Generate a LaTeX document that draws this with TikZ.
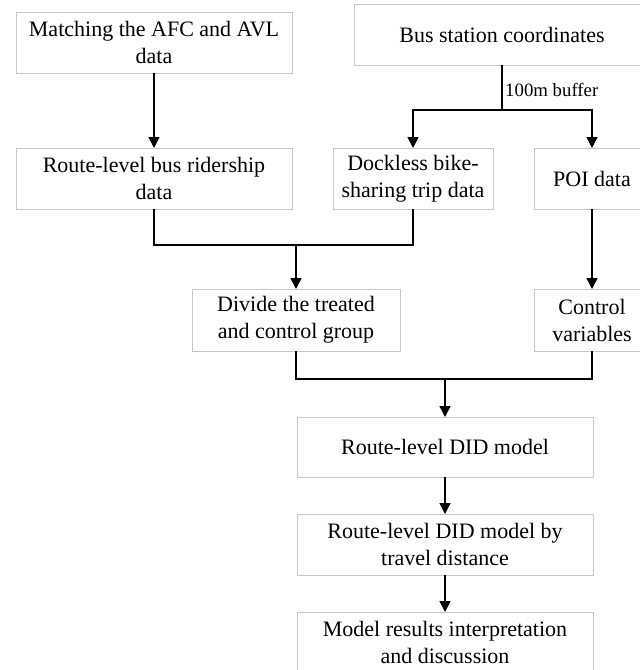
\documentclass[tikz,border=0pt]{standalone}
\usepackage{fontspec}
\setmainfont{Liberation Serif}
\usetikzlibrary{arrows.meta}
\begin{document}
\begin{tikzpicture}[x=1pt,y=-1pt,
 box/.style={draw=black!22, line width=1pt, inner sep=0pt, outer sep=0pt, align=center, font=\fontsize{22}{27}\selectfont},
 conn/.style={line width=1.5pt, line join=miter},
 arr/.style={conn, -{Triangle[length=11pt,width=11pt]}}]
\useasboundingbox (0,0) rectangle (640,670);
\node[box, minimum width=276pt, minimum height=61pt] (A) at (154,42.5) {Matching the AFC and AVL\\data};
\node[box, minimum width=296pt, minimum height=61pt] (B) at (502,34.5) {Bus station coordinates};
\node[box, minimum width=276pt, minimum height=61pt] (C) at (154,178.5) {Route-level bus ridership\\data};
\node[box, minimum width=160pt, minimum height=61pt] (D) at (413,178.5) {Dockless bike-\\sharing trip data};
\node[box, minimum width=116pt, minimum height=61pt] (E) at (592,178.5) {POI data};
\node[box, minimum width=208pt, minimum height=62pt] (F) at (296,320) {Divide the treated\\and control group};
\node[box, minimum width=116pt, minimum height=62pt] (G) at (592,320) {Control\\variables};
\node[box, minimum width=296pt, minimum height=60pt] (H) at (445,447) {Route-level DID model};
\node[box, minimum width=296pt, minimum height=61pt] (I) at (445,544.5) {Route-level DID model by\\travel distance};
\node[box, minimum width=296pt, minimum height=61pt] (J) at (445,642.5) {Model results interpretation\\and discussion};
\node[font=\fontsize{18.8}{20}\selectfont, anchor=west, inner sep=1pt] (lbl) at (504,90) {100m buffer};
\coordinate (b1) at (502,110);
\coordinate (m1) at (296,245);
\coordinate (m2) at (445,379);
\draw[arr] (A.south) -- (C.north);
\draw[conn] (B.south) -- (b1);
\draw[arr] (b1) -| (D.north);
\draw[arr] (b1) -| (E.north);
\draw[conn] (C.south) -- (C.south |- m1) -- (D.south |- m1) -- (D.south);
\draw[arr] (m1) -- (F.north);
\draw[arr] (E.south) -- (G.north);
\draw[conn] (F.south) -- (F.south |- m2) -- (G.south |- m2) -- (G.south);
\draw[arr] (m2) -- (H.north);
\draw[arr] (H.south) -- (I.north);
\draw[arr] (I.south) -- (J.north);
\end{tikzpicture}
\end{document}
